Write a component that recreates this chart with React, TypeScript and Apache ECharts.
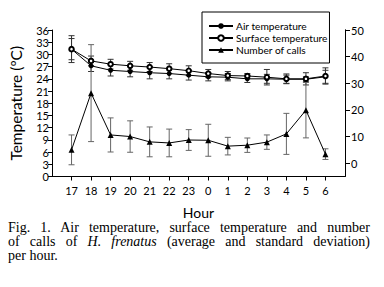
import React, { useEffect, useRef } from "react";
import * as echarts from "echarts";

const hours = ["17", "18", "19", "20", "21", "22", "23", "0", "1", "2", "3", "4", "5", "6"];
const airMean = [31.3, 27.2, 26.1, 25.8, 25.5, 25.3, 24.9, 24.5, 24.4, 24.0, 24.0, 23.9, 23.9, 24.5];
const airSD = [2.6, 1.4, 1.4, 1.3, 1.5, 1.3, 1.2, 1.0, 0.9, 0.9, 1.1, 1.0, 0.6, 1.6];
const surfMean = [31.3, 28.4, 27.6, 27.2, 26.9, 26.5, 26.0, 25.3, 24.8, 24.7, 24.4, 24.0, 24.0, 24.7];
const surfSD = [3.3, 1.2, 1.2, 1.1, 1.1, 1.2, 1.2, 1.0, 1.0, 0.6, 1.9, 1.2, 1.5, 2.0];
const callsMean = [5.0, 26.3, 10.6, 10.0, 8.0, 7.6, 8.7, 8.6, 6.4, 6.75, 7.9, 11.0, 19.9, 3.4];
const callsSD = [5.6, 18.2, 6.4, 5.9, 5.6, 5.2, 3.9, 6.0, 3.3, 2.7, 2.7, 7.7, 10.4, 2.0];
const leftTicks = { min: 0, max: 36, interval: 3 };
const rightTicks = { min: 0, max: 50, interval: 10 };

const categories = ["", ...hours, ""];
const FONT = "Lato";

function errData(mean: number[], sd: number[]) {
  return mean.map((m, i) => [i + 1, m - sd[i], m + sd[i]]);
}
function lineData(mean: number[]) {
  return mean.map((m, i) => [i + 1, m]);
}
function errSeries(name: string, mean: number[], sd: number[], yAxisIndex: number, color: string) {
  return {
    type: "custom",
    name: name + " sd",
    xAxisIndex: 0,
    yAxisIndex,
    silent: true,
    z: 1,
    encode: { x: 0, y: [1, 2] },
    data: errData(mean, sd),
    renderItem: (params: any, api: any) => {
      const x = api.value(0);
      const lo = api.value(1);
      const hi = api.value(2);
      const p1 = api.coord([x, hi]);
      const p2 = api.coord([x, lo]);
      const w = 3;
      const style = { stroke: color, lineWidth: 1 };
      return {
        type: "group",
        children: [
          { type: "line", shape: { x1: p1[0], y1: p1[1], x2: p2[0], y2: p2[1] }, style },
          { type: "line", shape: { x1: p1[0] - w, y1: p1[1], x2: p1[0] + w, y2: p1[1] }, style },
          { type: "line", shape: { x1: p2[0] - w, y1: p2[1], x2: p2[0] + w, y2: p2[1] }, style },
        ],
      };
    },
  };
}

export default function App() {
  const ref = useRef<HTMLDivElement>(null);
  useEffect(() => {
    if (!ref.current) return;
    const chart = echarts.init(ref.current, null, { renderer: "svg" });
    const axisLine = { show: true, lineStyle: { color: "#000", width: 1 } };
    chart.setOption({
      animation: false,
      backgroundColor: "#fff",
      textStyle: { fontFamily: FONT },
      grid: [
        { left: 50, right: 39, top: 30, bottom: 110.5 },
        { left: 50, right: 39, top: 30, bottom: 123.7 },
      ],
      legend: {
        orient: "vertical",
        left: 202,
        top: 12,
        padding: [8, 2, 7, 6],
        borderColor: "#000",
        borderWidth: 1,
        itemWidth: 24,
        itemHeight: 7,
        itemGap: 0,
        textStyle: { fontFamily: FONT, fontSize: 10.2, color: "#000", lineHeight: 12, padding: [0, 0, 0, -2] },
        data: ["Air temperature", "Surface temperature", "Number of calls"],
      },
      xAxis: [
        {
          type: "category",
          gridIndex: 0,
          data: categories,
          boundaryGap: false,
          axisLine,
          axisTick: { show: true, length: 4, interval: (i: number) => i > 0 && i < categories.length - 1, lineStyle: { color: "#000" } },
          axisLabel: { interval: 0, fontSize: 11, color: "#000", margin: 8, fontFamily: FONT },
          splitLine: { show: false },
          name: "Hour",
          nameLocation: "middle",
          nameGap: 28.5,
          nameTextStyle: { fontSize: 14, color: "#000", fontFamily: FONT },
        },
        { type: "category", gridIndex: 1, data: categories, boundaryGap: false, show: false },
      ],
      yAxis: [
        {
          type: "value",
          gridIndex: 0,
          min: leftTicks.min,
          max: leftTicks.max,
          interval: leftTicks.interval,
          axisLine,
          axisTick: { show: true, length: 4, lineStyle: { color: "#000" } },
          axisLabel: { fontSize: 11, color: "#000", margin: 3, fontFamily: FONT },
          splitLine: { show: false },
          name: "Temperature (ºC)",
          nameLocation: "middle",
          nameGap: 28,
          nameTextStyle: { fontSize: 15.5, color: "#000", fontFamily: FONT },
        },
        {
          type: "value",
          gridIndex: 0,
          position: "right",
          min: -5,
          max: 50,
          axisLine,
          axisTick: { show: false },
          axisLabel: { show: false },
          splitLine: { show: false },
        },
        {
          type: "value",
          gridIndex: 1,
          position: "right",
          min: rightTicks.min,
          max: rightTicks.max,
          interval: rightTicks.interval,
          axisLine,
          axisTick: { show: true, length: 5, lineStyle: { color: "#000" } },
          axisLabel: { fontSize: 11, color: "#000", margin: 6, fontFamily: FONT },
          splitLine: { show: false },
        },
      ],
      series: [
        errSeries("Surface temperature", surfMean, surfSD, 0, "#333"),
        errSeries("Air temperature", airMean, airSD, 0, "#333"),
        errSeries("Number of calls", callsMean, callsSD, 1, "#666"),
        {
          type: "line",
          name: "Number of calls",
          yAxisIndex: 1,
          data: lineData(callsMean),
          symbol: "triangle",
          symbolSize: 6,
          itemStyle: { color: "#000" },
          lineStyle: { color: "#000", width: 1 },
          z: 3,
        },
        {
          type: "line",
          name: "Air temperature",
          yAxisIndex: 0,
          data: lineData(airMean),
          symbol: "circle",
          symbolSize: 5,
          itemStyle: { color: "#000" },
          lineStyle: { color: "#000", width: 1 },
          z: 3,
        },
        {
          type: "line",
          name: "Surface temperature",
          yAxisIndex: 0,
          data: lineData(surfMean),
          symbol: "emptyCircle",
          symbolSize: 4.5,
          itemStyle: { color: "#000", borderWidth: 1 },
          lineStyle: { color: "#000", width: 1 },
          z: 4,
        },
      ],
    });
    return () => chart.dispose();
  }, []);

  const lineStyle: React.CSSProperties = { textAlign: "justify", textAlignLast: "justify" };
  return (
    <div style={{ position: "absolute", left: 0, top: 0, width: 384, height: 287, background: "#fff" }}>
      <div ref={ref} style={{ position: "absolute", left: 0, top: 0, width: 384, height: 287 }} />
      <div
        style={{
          position: "absolute",
          left: 8,
          top: 220.5,
          width: 362,
          fontFamily: "'Liberation Serif', 'Times New Roman', serif",
          fontSize: 14,
          lineHeight: "14px",
          color: "#000",
        }}
      >
        <div style={lineStyle}>Fig. 1. Air temperature, surface temperature and number</div>
        <div style={lineStyle}>
          of calls of <i>H. frenatus</i> (average and standard deviation)
        </div>
        <div>per hour.</div>
      </div>
    </div>
  );
}
